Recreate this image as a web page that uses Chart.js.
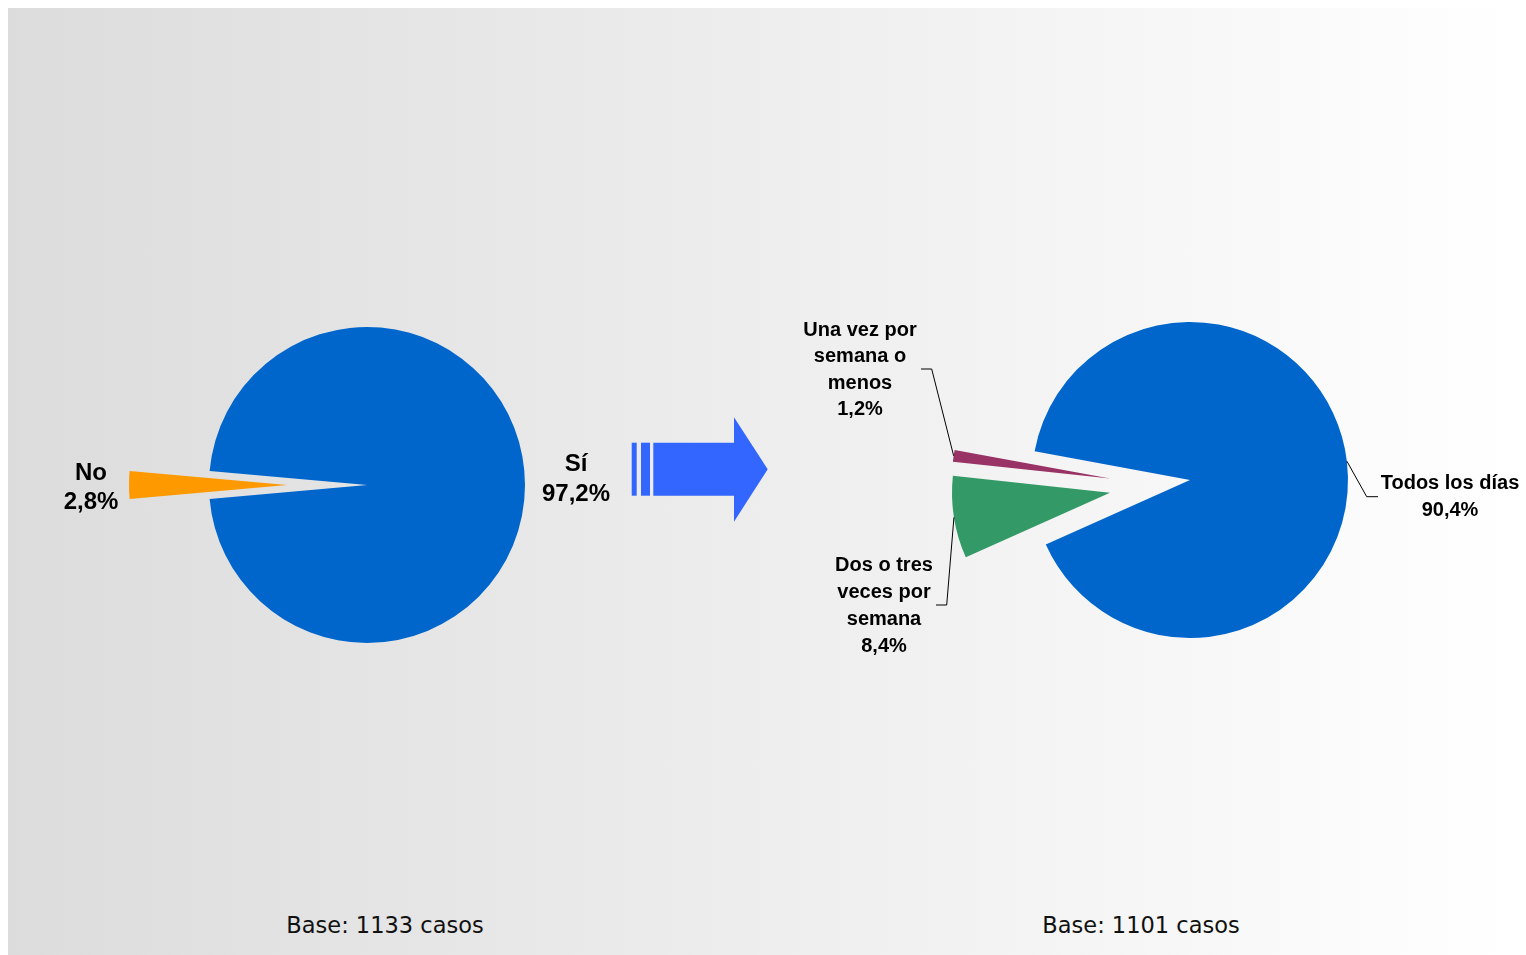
<!DOCTYPE html>
<html>
<head>
<meta charset="utf-8">
<script src="https://cdn.jsdelivr.net/npm/chart.js@4.4.0/dist/chart.umd.min.js"></script>
<style>
    html, body { margin: 0; padding: 0; background: #fff; overflow: hidden; width: 1526px; height: 955px; }
    #panel { position: absolute; left: 8px; top: 8px; width: 1518px; height: 947px;
             background: linear-gradient(to right, #dcdcdc, #ffffff); }
    canvas { position: absolute; }
    #arrow { position: absolute; left: 0; top: 0; }
    .base { position: absolute; top: 914px; font-family: "DejaVu Sans", sans-serif; font-size: 22.5px;
            line-height: 22.5px; color: #111; transform: translateX(-50%); white-space: nowrap; }
</style>
</head>
<body>
<div id="panel"></div>
<svg id="arrow" width="800" height="600">
    <rect x="631.7" y="442.7" width="5" height="53" fill="#3366ff"/>
    <rect x="641" y="442.7" width="9" height="53" fill="#3366ff"/>
    <polygon points="653.3,442.7 734,442.7 734,417.3 767.7,469.3 734,521.7 734,495.7 653.3,495.7" fill="#3366ff"/>
</svg>
<canvas id="pieLeft" width="654" height="600" style="left:40px; top:185px; width:654px; height:600px;"></canvas>
<canvas id="pieRight" width="746" height="600" style="left:780px; top:180px; width:746px; height:600px;"></canvas>
<div class="base" style="left:385px;">Base: 1133 casos</div>
<div class="base" style="left:1141px;">Base: 1101 casos</div>

<script>
// -- Data --
const leftLabels = ['Sí', 'No'];
const leftValues = [97.2, 2.8];
const leftColors = ['#0066cc', '#ff9900'];

const rightLabels = ['Todos los días', 'Dos o tres veces por semana', 'Una vez por semana o menos'];
const rightValues = [90.4, 8.4, 1.2];
const rightColors = ['#0066cc', '#339966', '#993366'];

// how the label texts break over lines
const leftLabelLines = [['Sí'], ['No']];
const rightLabelLines = [['Todos los días'], ['Dos o tres', 'veces por', 'semana'], ['Una vez por', 'semana o', 'menos']];

// -- Helpers --
function fmtPct(v) {
    return v.toFixed(1).replace('.', ',') + '%';
}

// pulls slices out of the pie (Excel style: whole slice moved, radius unchanged)
const explodeSlices = {
    id: 'explodeSlices',
    afterDatasetUpdate(chart, args) {
        const ds = chart.data.datasets[args.index];
        if (!ds.explode) return;
        args.meta.data.forEach((arc, i) => {
            const d = ds.explode[i];
            if (!d) return;
            const dirs = ds.explodeAngle || [];
            const dir = dirs[i] != null ? dirs[i] * Math.PI / 180 : (arc.startAngle + arc.endAngle) / 2;
            arc.x += Math.cos(dir) * d;
            arc.y += Math.sin(dir) * d;
        });
    }
};

// draws the data labels (and leader lines) next to each slice
const pieLabels = {
    id: 'pieLabels',
    afterDatasetsDraw(chart, args, opts) {
        const ctx = chart.ctx;
        const meta = chart.getDatasetMeta(0);
        const values = chart.data.datasets[0].data;
        const area = chart.chartArea;
        const cx = (area.left + area.right) / 2;
        const cy = (area.top + area.bottom) / 2;
        ctx.save();
        opts.items.forEach((it, i) => {
            const arc = meta.data[i];
            const mid = (arc.startAngle + arc.endAngle) / 2;

            if (it.leader) {
                ctx.beginPath();
                ctx.moveTo(arc.x + Math.cos(mid) * arc.outerRadius, arc.y + Math.sin(mid) * arc.outerRadius);
                it.leader.forEach(pt => ctx.lineTo(cx + pt[0], cy + pt[1]));
                ctx.strokeStyle = '#000';
                ctx.lineWidth = 1;
                ctx.stroke();
            }

            const lines = it.lines.concat([fmtPct(values[i])]);
            ctx.font = `bold ${opts.fontSize}px "Liberation Sans", Arial, sans-serif`;
            ctx.fillStyle = '#000';
            ctx.textAlign = 'center';
            ctx.textBaseline = 'middle';
            const n = lines.length;
            lines.forEach((t, k) => {
                ctx.fillText(t, cx + it.dx, cy + it.dy + (k - (n - 1) / 2) * it.lh);
            });
        });
        ctx.restore();
    }
};

function makePie(id, labels, values, colors, explode, explodeAngle, rotation, padding, fontSize, items) {
    return new Chart(document.getElementById(id), {
        type: 'pie',
        data: {
            labels: labels,
            datasets: [{
                data: values,
                backgroundColor: colors,
                borderWidth: 0,
                explode: explode,
                explodeAngle: explodeAngle
            }]
        },
        options: {
            responsive: false,
            animation: false,
            events: [],
            radius: 158,
            rotation: rotation,
            layout: { padding: padding },
            plugins: {
                legend: { display: false },
                tooltip: { enabled: false },
                pieLabels: { fontSize: fontSize, items: items }
            }
        },
        plugins: [explodeSlices, pieLabels]
    });
}

// -- Left pie: Sí / No --
makePie('pieLeft', leftLabels, leftValues, leftColors, [0, 80], [], -84.96, 0, 24, [
    { lines: leftLabelLines[0], dx: 209, dy: -6, lh: 30 },
    { lines: leftLabelLines[1], dx: -276, dy: 2.5, lh: 29 }
]);

// -- Right pie: frecuencia --
makePie('pieRight', rightLabels, rightValues, rightColors, [0, 81, 80], [null, null, 181], 280.44, { left: 74 }, 20, [
    { lines: rightLabelLines[0], dx: 260, dy: 17, lh: 27.5, leader: [[176.7, 16.7], [188, 16.7]] },
    { lines: rightLabelLines[1], dx: -306, dy: 126, lh: 26.7, leader: [[-243.3, 125], [-254, 125]] },
    { lines: rightLabelLines[2], dx: -330, dy: -110, lh: 26.5, leader: [[-258.3, -111], [-269, -111]] }
]);
</script>
</body>
</html>
